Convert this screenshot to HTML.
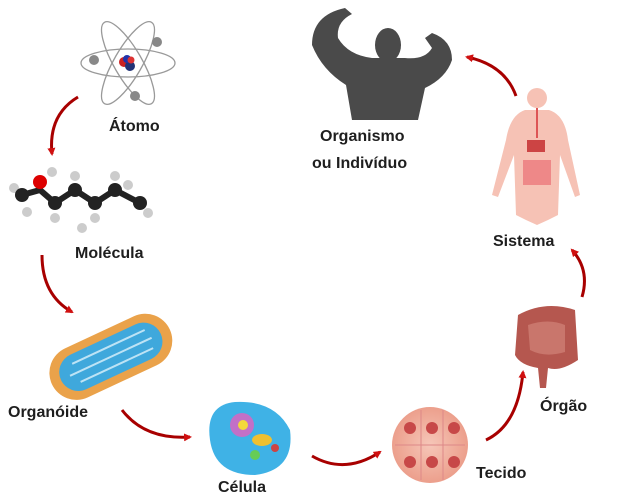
<!DOCTYPE html>
<html><head><meta charset="utf-8"><style>
html,body{margin:0;padding:0;background:#fff;width:617px;height:493px;overflow:hidden}
svg{display:block}
text{font-family:"Liberation Sans",sans-serif;font-weight:bold;font-size:16px;fill:#1e1e1e}
</style></head><body>
<svg width="617" height="493" viewBox="0 0 617 493">
<defs>
<marker id="ah" markerWidth="8" markerHeight="8" refX="6" refY="4" orient="auto" markerUnits="userSpaceOnUse"><path d="M0,0 L8,4 L0,8 Z" fill="#d01010"/></marker>
<radialGradient id="tis" cx="50%" cy="50%" r="50%"><stop offset="0" stop-color="#f6c6b8"/><stop offset="1" stop-color="#ec9f8c"/></radialGradient>
</defs>
<!-- arrows -->
<g fill="none" stroke="#a80000" stroke-width="3" marker-end="url(#ah)">
<path d="M78,97 Q48,115 52,154"/>
<path d="M42,255 Q42,295 72,312"/>
<path d="M122,410 Q145,440 190,437"/>
<path d="M312,456 Q345,475 380,452"/>
<path d="M486,440 Q518,425 523,372"/>
<path d="M582,297 Q590,270 572,250"/>
<path d="M516,96 Q505,65 467,57"/>
</g>
<!-- atom -->
<g fill="none" stroke="#999" stroke-width="1.3">
<ellipse cx="128" cy="63" rx="47" ry="14"/>
<ellipse cx="128" cy="63" rx="47" ry="14" transform="rotate(60 128 63)"/>
<ellipse cx="128" cy="63" rx="47" ry="14" transform="rotate(-60 128 63)"/>
</g>
<circle cx="124" cy="62" r="5" fill="#c22"/><circle cx="130" cy="66" r="5" fill="#237"/><circle cx="127" cy="59" r="4" fill="#23a"/><circle cx="131" cy="60" r="3.5" fill="#d33"/>
<circle cx="157" cy="42" r="5" fill="#888"/><circle cx="94" cy="60" r="5" fill="#888"/><circle cx="135" cy="96" r="5" fill="#888"/>
<text x="109" y="131">Átomo</text>
<!-- molecule -->
<g stroke="#222" stroke-width="6" fill="none"><path d="M22,195 L40,190 L55,203 L75,190 L95,203 L115,190 L140,203"/></g>
<g fill="#ccc"><circle cx="14" cy="188" r="5"/><circle cx="27" cy="212" r="5"/><circle cx="55" cy="218" r="5"/><circle cx="75" cy="176" r="5"/><circle cx="95" cy="218" r="5"/><circle cx="115" cy="176" r="5"/><circle cx="128" cy="185" r="5"/><circle cx="148" cy="213" r="5"/><circle cx="82" cy="228" r="5"/><circle cx="52" cy="172" r="5"/></g>
<g fill="#222"><circle cx="22" cy="195" r="7"/><circle cx="55" cy="203" r="7"/><circle cx="75" cy="190" r="7"/><circle cx="95" cy="203" r="7"/><circle cx="115" cy="190" r="7"/><circle cx="140" cy="203" r="7"/></g>
<circle cx="40" cy="182" r="7" fill="#d00"/>
<text x="75" y="258">Molécula</text>
<!-- mitochondrion -->
<g transform="rotate(-25 110 355)">
<rect x="45" y="330" width="130" height="54" rx="27" fill="#eaa24a"/>
<rect x="55" y="338" width="110" height="38" rx="19" fill="#3fa8dc"/>
<path d="M65,357 h90 M72,347 h80 M72,367 h80" stroke="#bde3f5" stroke-width="2"/>
</g>
<text x="8" y="417">Organóide</text>
<!-- cell -->
<path d="M210,440 Q205,405 235,402 Q275,400 290,430 Q295,470 255,475 Q215,475 210,440Z" fill="#3fb2e6"/>
<circle cx="242" cy="425" r="12" fill="#c270c7"/><circle cx="243" cy="425" r="5" fill="#f3d83b"/>
<ellipse cx="262" cy="440" rx="10" ry="6" fill="#f0c030"/><circle cx="255" cy="455" r="5" fill="#6c5"/><circle cx="275" cy="448" r="4" fill="#c44"/>
<text x="218" y="492">Célula</text>
<!-- tissue -->
<circle cx="430" cy="445" r="38" fill="url(#tis)"/>
<g fill="#c74848"><circle cx="410" cy="428" r="6"/><circle cx="432" cy="428" r="6"/><circle cx="454" cy="428" r="6"/><circle cx="410" cy="462" r="6"/><circle cx="432" cy="462" r="6"/><circle cx="454" cy="462" r="6"/></g>
<g stroke="#d88" stroke-width="1"><path d="M395,445 h70 M421,410 v70 M443,410 v70"/></g>
<text x="476" y="478">Tecido</text>
<!-- colon -->
<path d="M518,315 Q545,300 575,310 L578,360 Q560,372 548,368 L546,388 L540,388 L538,368 Q520,365 515,355Z" fill="#b5574f"/>
<path d="M528,325 Q548,318 565,325 L565,352 Q545,358 530,350Z" fill="#c9766c"/>
<text x="540" y="411">Órgão</text>
<!-- body system -->
<g fill="#f6c2b5">
<circle cx="537" cy="98" r="10"/>
<path d="M525,110 h24 Q565,115 568,140 L580,195 L575,197 L560,155 L558,215 L548,220 L537,225 L526,220 L516,215 L514,155 L498,197 L492,195 L506,140 Q510,115 525,110Z"/>
</g>
<path d="M537,108 v30" stroke="#d55" stroke-width="2"/>
<path d="M527,140 h18 v12 h-18z" fill="#c44"/><path d="M523,160 h28 v25 h-28z" fill="#e88"/>
<text x="493" y="246">Sistema</text>
<!-- muscular man -->
<g fill="#4a4a4a">
<ellipse cx="388" cy="45" rx="13" ry="17"/>
<path d="M352,120 L346,85 Q322,70 312,45 Q312,15 345,8 L352,14 Q336,22 338,38 Q348,55 372,58 L405,58 Q425,60 432,48 L425,38 L432,33 Q452,40 452,60 Q446,78 425,88 L418,120 Z"/>
</g>
<text x="320" y="141">Organismo</text>
<text x="312" y="168">ou Indivíduo</text>
</svg>
</body></html>
